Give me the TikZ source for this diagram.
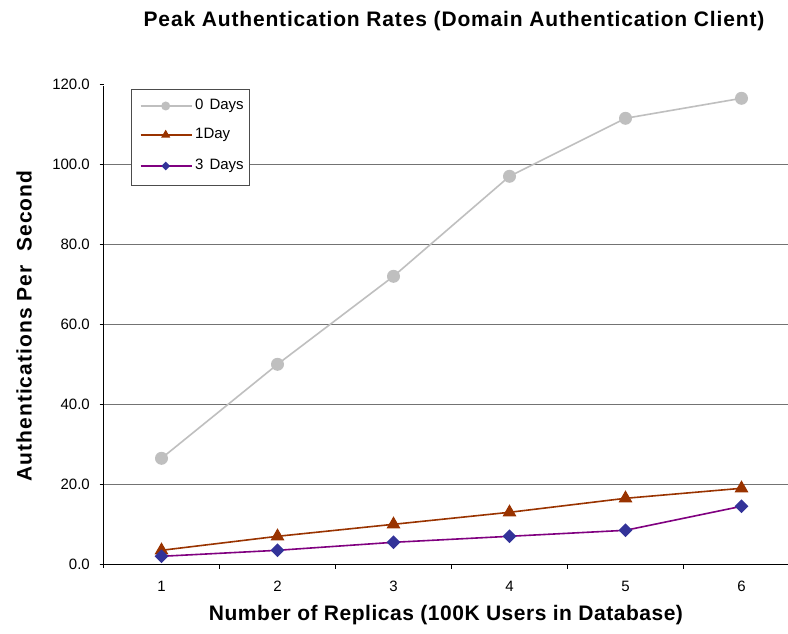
\documentclass[tikz,border=0pt]{standalone}
\usepackage{fontspec}
\setmainfont{Liberation Sans}
\newfontfamily\titlefont[LetterSpace=4]{Liberation Sans}
\newfontfamily\xtfont[LetterSpace=2.5]{Liberation Sans}
\newfontfamily\ytfont[LetterSpace=5]{Liberation Sans}
\usetikzlibrary{shapes.geometric}
\begin{document}
\begin{tikzpicture}[x=1pt,y=-1pt,
  grid/.style={draw=black!55,line width=1pt},
  axisline/.style={draw=black,line width=1pt},
  ticklbl/.style={font=\fontsize{15}{17}\selectfont,inner sep=0pt},
  zeroline/.style={draw=black!25,line width=1.6pt},
  oneline/.style={draw=c1,line width=1.6pt},
  threeline/.style={draw=c3l,line width=1.6pt},
  zeromark/.style={circle,fill=black!25,minimum size=13pt,inner sep=0pt},
  onemark/.style={isosceles triangle,isosceles triangle apex angle=60,shape border rotate=90,fill=c1,minimum height=12pt,inner sep=0pt},
  threemark/.style={diamond,fill=c3m,minimum size=14pt,inner sep=0pt},
]
\definecolor{c1}{HTML}{993300}
\definecolor{c3l}{HTML}{800080}
\definecolor{c3m}{HTML}{333399}
\path[use as bounding box] (0,0) rectangle (788,634);
\fill[white] (0,0) rectangle (788,634);
% title
\node[font=\fontsize{21}{24}\titlefont\bfseries] (title) at (454,21) {Peak Authentication Rates (Domain Authentication Client)};
% gridlines
\foreach \v in {20,40,60,80,100} {
  \draw[grid] (103.5,{564.3-4*\v}) -- (788,{564.3-4*\v});
}
% axes
\draw[axisline] (103.5,86) -- (103.5,568);
\draw[axisline] (99.5,564.3) -- (788,564.3);
\foreach \v in {0,20,40,60,80,100,120} {
  \draw[axisline] (99.5,{564.3-4*\v}) -- (103.5,{564.3-4*\v});
  \node[ticklbl,anchor=east] (yl\v) at (90,{564.3-4*\v}) {\v.0};
}
\foreach \i in {1,...,5} {
  \draw[axisline] ({103.5+116*\i},564.3) -- ({103.5+116*\i},568.5);
}
\foreach \i in {1,...,6} {
  \node[ticklbl] (xl\i) at ({103.5+116*(\i-0.5)},586) {\i};
}
% axis titles
\node[font=\fontsize{21}{24}\xtfont\bfseries] (xtitle) at (446,615) {Number of Replicas (100K Users in Database)};
\node[font=\fontsize{21}{24}\ytfont\bfseries,rotate=90] (ytitle) at (24,326) {Authentications Per\ \ Second};
% data
\foreach \v [count=\i] in {26.5,50,72,97,111.5,116.5} {
  \coordinate (a\i) at ({103.5+116*(\i-0.5)},{564.3-4*\v});
}
\foreach \v [count=\i] in {3.5,7,10,13,16.5,19} {
  \coordinate (b\i) at ({103.5+116*(\i-0.5)},{564.3-4*\v});
}
\foreach \v [count=\i] in {2,3.5,5.5,7,8.5,14.5} {
  \coordinate (c\i) at ({103.5+116*(\i-0.5)},{564.3-4*\v});
}
\draw[zeroline] (a1)--(a2)--(a3)--(a4)--(a5)--(a6);
\draw[oneline] (b1)--(b2)--(b3)--(b4)--(b5)--(b6);
\draw[threeline] (c1)--(c2)--(c3)--(c4)--(c5)--(c6);
\foreach \i in {1,...,6} {
  \node[zeromark] (ma\i) at (a\i) {};
  \node[onemark] (mb\i) at (b\i) {};
  \node[threemark] (mc\i) at (c\i) {};
}
% legend
\draw[fill=white,draw=black!70,line width=1pt] (131.7,90) rectangle (249,185);
\coordinate (l1a) at (140.7,106); \coordinate (l1b) at (191.7,106);
\coordinate (l2a) at (140.7,135); \coordinate (l2b) at (191.7,135);
\coordinate (l3a) at (140.7,166); \coordinate (l3b) at (191.7,166);
\draw[zeroline] (l1a) -- (l1b);
\draw[oneline] (l2a) -- (l2b);
\draw[threeline] (l3a) -- (l3b);
\node[circle,fill=black!25,minimum size=9pt,inner sep=0pt] (lm1) at (165.7,106) {};
\node[isosceles triangle,isosceles triangle apex angle=60,shape border rotate=90,fill=c1,minimum height=8pt,inner sep=0pt] (lm2) at (165.7,135) {};
\node[diamond,fill=c3m,minimum size=9pt,inner sep=0pt] (lm3) at (165.7,166) {};
\node[ticklbl,anchor=west] (lt1) at (195,106) {0\hspace{6pt}Days};
\node[ticklbl,anchor=west] (lt2) at (195,135) {1Day};
\node[ticklbl,anchor=west] (lt3) at (195,166) {3\hspace{6pt}Days};
\end{tikzpicture}
\end{document}
